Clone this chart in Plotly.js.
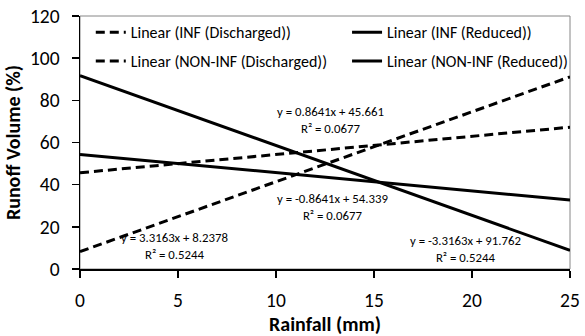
<!DOCTYPE html>
<html>
<head>
<meta charset="utf-8">
<script src="https://cdn.plot.ly/plotly-3.0.1.min.js"></script>
<style>html,body{margin:0;padding:0;background:#fff;}#chart{width:585px;height:336px;}</style>
</head>
<body>
<div id="chart"></div>
<script>
// Trendline endpoints (x = rainfall in mm)
const rainfall = [0, 25];
const infDischarged = [45.66, 67.26];
const infReduced = [54.34, 32.74];
const nonInfDischarged = [8.24, 91.15];
const nonInfReduced = [91.76, 8.85];
const seriesNames = [
  'Linear (INF (Discharged))',
  'Linear (INF (Reduced))',
  'Linear (NON-INF (Discharged))',
  'Linear (NON-INF (Reduced))'
];
const equationLabels = [
  'y = 0.8641x + 45.661<br>R² = 0.0677',
  'y = -0.8641x + 54.339<br>R² = 0.0677',
  'y = 3.3163x + 8.2378<br>R² = 0.5244',
  'y = -3.3163x + 91.762<br>R² = 0.5244'
];
const xTicks = [0, 5, 10, 15, 20, 25];
const yTicks = [0, 20, 40, 60, 80, 100, 120];

const FONT = "Carlito, Calibri, Lato, 'Liberation Sans', Arial, sans-serif";
const dashed = {color: '#000', width: 3, dash: '9px,5px'};
const solid = {color: '#000', width: 3};

const traces = [
  {x: rainfall, y: infDischarged, name: seriesNames[0], mode: 'lines', line: dashed, legend: 'legend', legendgroup: 'a'},
  {x: rainfall, y: infReduced, name: seriesNames[1], mode: 'lines', line: solid, legend: 'legend2', legendgroup: 'b'},
  {x: rainfall, y: nonInfDischarged, name: seriesNames[2], mode: 'lines', line: dashed, legend: 'legend', legendgroup: 'c'},
  {x: rainfall, y: nonInfReduced, name: seriesNames[3], mode: 'lines', line: solid, legend: 'legend2', legendgroup: 'd'}
];

const legendBase = {
  orientation: 'v', traceorder: 'grouped', tracegroupgap: 5,
  bgcolor: 'rgba(0,0,0,0)', borderwidth: 0, itemwidth: 30,
  font: {family: FONT, size: 16, color: '#000'},
  xanchor: 'left', yanchor: 'top', y: 1.003
};

const annFont = {family: FONT, size: 12.8, color: '#000'};
const layout = {
  width: 585, height: 336,
  margin: {l: 80, r: 15, t: 16, b: 67},
  paper_bgcolor: '#fff', plot_bgcolor: '#fff',
  font: {family: FONT, color: '#000'},
  showlegend: true,
  legend: Object.assign({}, legendBase, {x: 0.022}),
  legend2: Object.assign({}, legendBase, {x: 0.545}),
  xaxis: {
    range: [0, 25], tickvals: xTicks, ticktext: xTicks.map(String),
    showgrid: false, zeroline: false, showline: true, linecolor: '#000', linewidth: 1.5,
    ticks: 'outside', ticklen: 7, tickwidth: 1.5, tickcolor: '#000',
    tickfont: {family: FONT, size: 19.5, color: '#000'}, ticklabelstandoff: 6,
    title: {text: 'Rainfall (mm)', font: {family: FONT, size: 20, weight: 'bold', color: '#000'}, standoff: 4}
  },
  yaxis: {
    range: [0, 120], tickvals: yTicks, ticktext: yTicks.map(String),
    showgrid: false, zeroline: false, showline: true, linecolor: '#000', linewidth: 1.5,
    ticks: 'outside', ticklen: 7, tickwidth: 1.5, tickcolor: '#000',
    tickfont: {family: FONT, size: 19.5, color: '#000'}, ticklabelstandoff: 8,
    title: {text: 'Runoff Volume (%)', font: {family: FONT, size: 20, weight: 'bold', color: '#000'}, standoff: 4}
  },
  shapes: [{
    type: 'rect', xref: 'paper', yref: 'paper', x0: 0, x1: 1, y0: 0, y1: 1,
    line: {color: '#868686', width: 1}, layer: 'below'
  }],
  annotations: [
    {x: 12.8, y: 70.7, xref: 'x', yref: 'y', text: equationLabels[0], showarrow: false, font: annFont, align: 'center'},
    {x: 12.9, y: 29.5, xref: 'x', yref: 'y', text: equationLabels[1], showarrow: false, font: annFont, align: 'center'},
    {x: 4.82, y: 10.7, xref: 'x', yref: 'y', text: equationLabels[2], showarrow: false, font: annFont, align: 'center'},
    {x: 19.68, y: 9.6, xref: 'x', yref: 'y', text: equationLabels[3], showarrow: false, font: annFont, align: 'center'}
  ]
};

Plotly.newPlot('chart', traces, layout, {displayModeBar: false, staticPlot: true});
</script>
</body>
</html>
